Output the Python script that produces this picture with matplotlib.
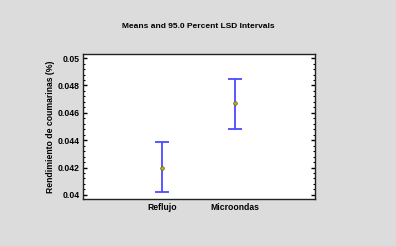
import matplotlib
matplotlib.use("Agg")
import matplotlib.pyplot as plt
from matplotlib.ticker import MultipleLocator, FixedLocator

categories = ["Reflujo", "Microondas"]
means = [0.0420, 0.04671]
lower = [0.04020, 0.04485]
upper = [0.04385, 0.04849]

plt.rcParams['font.family'] = ['Liberation Sans', 'DejaVu Sans']

fig = plt.figure(figsize=(3.96, 2.46), dpi=100)
fig.patch.set_facecolor('#dcdcdc')

ax = fig.add_axes([83/396, 1-199/246, (315-83)/396, (199-54)/246])
ax.set_facecolor('white')

x = list(range(1, len(categories)+1))
yerr = [[m - l for m, l in zip(means, lower)], [u - m for m, u in zip(means, upper)]]
ax.errorbar(x, means, yerr=yerr, fmt='none', ecolor='#4a4aff', elinewidth=1.3,
            capsize=5, capthick=1.3, zorder=2)
ax.plot(x, means, 'o', ms=2.6, mfc='#c8b400', mec='#6b6b2a', mew=0.6, zorder=3)

ax.set_xlim(1-1.086, 2+1.092)
ax.set_ylim(0.0397, 0.0503)
ax.set_xticks(x)
ax.set_xticklabels(categories, fontsize=6.2, fontweight='bold')
ax.tick_params(axis='x', length=0, pad=3)

ax.yaxis.set_major_locator(FixedLocator([0.04, 0.042, 0.044, 0.046, 0.048, 0.05]))
ax.set_yticklabels(['0.04', '0.042', '0.044', '0.046', '0.048', '0.05'], fontsize=6.2, fontweight='bold')
ax.yaxis.set_minor_locator(MultipleLocator(0.0004))
ax.tick_params(axis='y', which='major', direction='in', length=3, width=1, right=True, pad=2.5)
ax.tick_params(axis='y', which='minor', direction='in', length=1.5, width=0.8, right=True)

for s in ax.spines.values():
    s.set_linewidth(1.0)
    s.set_color('#222222')

ax.set_ylabel('Rendimiento de coumarinas (%)', fontsize=6.2, fontweight='bold', labelpad=2)
fig.text(0.5, 1-26.7/246, 'Means and 95.0 Percent LSD Intervals', ha='center', va='center',
         fontsize=6, fontweight='bold')

fig.savefig('out.png', dpi=100, facecolor=fig.get_facecolor())
